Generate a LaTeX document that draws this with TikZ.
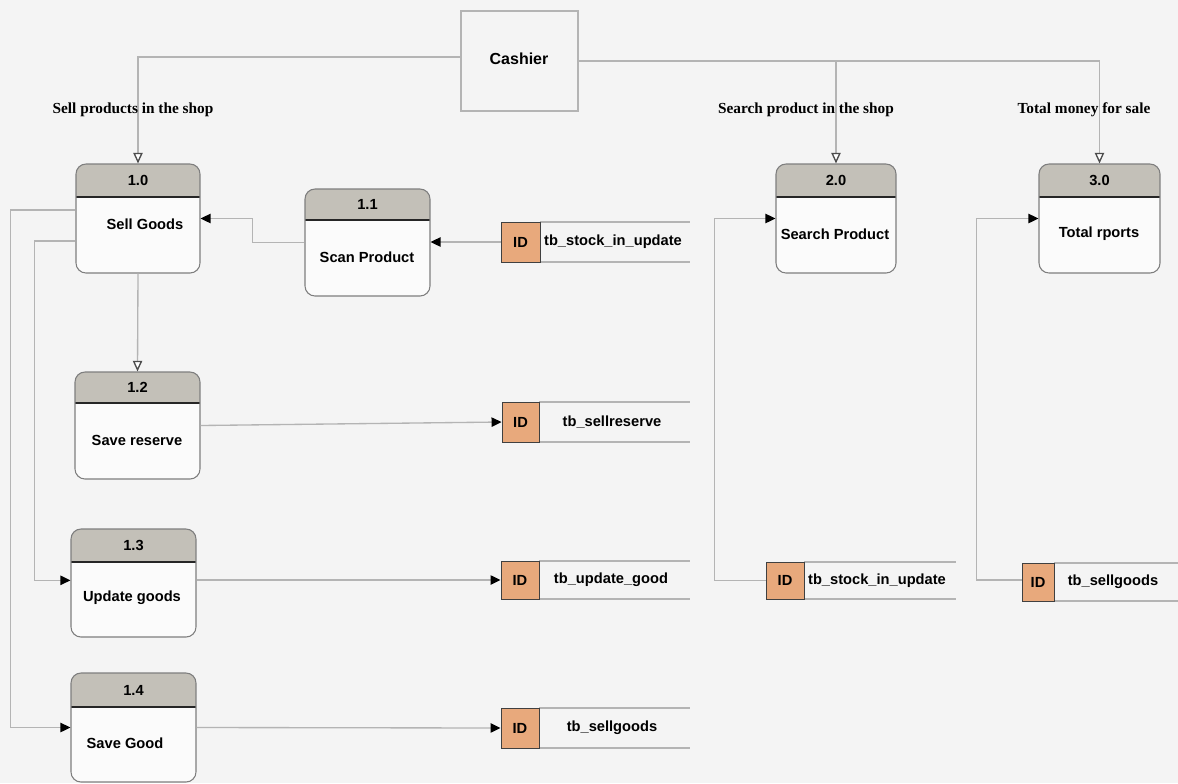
\documentclass[tikz,border=0pt]{standalone}
\usepackage{fontspec}
\setmainfont{Liberation Sans}
\newfontfamily\lblfont{Liberation Serif}
\usetikzlibrary{arrows.meta,calc}
\definecolor{bgc}{HTML}{F4F4F4}
\definecolor{linegray}{HTML}{B4B4B4}
\definecolor{boxgray}{HTML}{7E7E7E}
\definecolor{hdr}{HTML}{C3C0B8}
\definecolor{idfill}{HTML}{E8A97C}
\tikzset{
  flow/.style={draw=linegray, line width=1pt},
  tipf/.tip={Triangle[length=7.5pt,width=7pt,fill=black,color=black]},
  tipo/.tip={Triangle[length=8pt,width=7pt,color=black!70,fill=white]},
  procbody/.style={draw=boxgray, line width=0.8pt, rounded corners=7.5pt, inner sep=0pt},
  ptxt/.style={font=\bfseries\fontsize{11}{13}\selectfont, inner sep=1pt},
  lbl/.style={font=\lblfont\bfseries\fontsize{11.5}{13}\selectfont, inner sep=1pt},
  idbox/.style={draw=black!75, fill=idfill, line width=0.7pt, inner sep=0pt, font=\bfseries\fontsize{11}{13}\selectfont},
  storeline/.style={draw=linegray, line width=1.2pt},
  extbox/.style={draw=linegray, line width=1pt, fill=bgc, inner sep=0pt}
}
% #1 name, #2 x1, #3 y1, #4 x2, #5 y2, #6 header bottom y, #7 number, #8 label, #9 label position
\newcommand{\procbox}[9]{%
  \begin{scope}
    \clip[rounded corners=7.5pt] (#2,#3) rectangle (#4,#5);
    \fill[white!60!bgc] (#2,#3) rectangle (#4,#5);
    \fill[hdr] (#2,#3) rectangle (#4,#6);
  \end{scope}
  \draw[black!85, line width=0.9pt] (#2,#6) -- (#4,#6);
  \node[procbody, minimum width={(#4-#2)*0.75pt}, minimum height={(#5-#3)*0.75pt}] (#1) at ({(#2+#4)/2},{(#3+#5)/2}) {};
  \node[ptxt] (#1n) at ({(#2+#4)/2},{(#3+#6)/2}) {#7};
  \node[ptxt] (#1l) at #9 {#8};
}
% #1 name, #2 x1, #3 y1, #4 x2 (end of ID), #5 y2, #6 line end x, #7 text, #8 text x
\newcommand{\storebox}[8]{%
  \draw[storeline] (#4,#3) -- (#6,#3);
  \draw[storeline] (#4,#5) -- (#6,#5);
  \node[idbox, minimum width={(#4-#2)*0.75pt}, minimum height={(#5-#3)*0.75pt}] (#1) at ({(#2+#4)/2},{(#3+#5)/2}) {ID};
  \node[ptxt] (#1t) at (#8,{(#3+#5)/2}) {#7};
}
\begin{document}
\begin{tikzpicture}[x=0.75pt,y=-0.75pt]
\fill[bgc] (0,0) rectangle (1178,783);
\useasboundingbox (0,0) rectangle (1178,783);

% External entity
\node[extbox, minimum width=87.75pt, minimum height=75pt] (cash) at (519.5,61) {};
\node[font=\bfseries\fontsize{12}{14}\selectfont] (cashl) at (519,59) {Cashier};

% Processes
\procbox{p10}{76}{164}{200}{273}{197}{1.0}{Sell Goods}{(145,224)}
\procbox{p11}{305}{189}{430}{296}{220}{1.1}{Scan Product}{(367,257)}
\procbox{p12}{75}{372}{200}{479}{403}{1.2}{Save reserve}{(137,440)}
\procbox{p13}{71}{529}{196}{637}{562}{1.3}{Update goods}{(132,598)}
\procbox{p14}{71}{673}{196}{782}{707}{1.4}{Save Good}{(125,743)}
\procbox{p20}{776}{164}{896}{273}{197}{2.0}{Search Product}{(835,234)}
\procbox{p30}{1039}{164}{1160}{273}{197}{3.0}{Total rports}{(1099,234)}

% Data stores
\storebox{s1}{501}{222}{540}{262}{690}{tb\_stock\_in\_update}{613}
\storebox{s2}{502}{402}{539}{442}{690}{tb\_sellreserve}{612}
\storebox{s3}{501}{561}{539}{599}{690}{tb\_update\_good}{611}
\storebox{s4}{501}{708}{539}{748}{690}{tb\_sellgoods}{612}
\storebox{s5}{766}{562}{804}{599}{956}{tb\_stock\_in\_update}{877}
\storebox{s6}{1022}{563}{1054}{601}{1178}{tb\_sellgoods}{1113}

% Flows from Cashier
\draw[flow,-tipo] ([yshift=3pt]cash.west) -| (p10.north);
\draw[flow,-tipo] (cash.east) -| (p30.north);
\coordinate (br) at (cash.east -| p20.north);
\draw[flow,-tipo] (br) -- (p20.north);

% Flow labels
\node[lbl] (l1) at (133,110) {Sell products in the shop};
\node[lbl] (l2) at (806,110) {Search product in the shop};
\node[lbl] (l3) at (1084,110) {Total money for sale};

% Internal flows
\draw[flow,-tipf] (s1.west) -- (s1.west -| p11.east);
\draw[flow,-tipf] (p11.west) -- ++(-52,0) |- (p10.east);
\draw[flow,-tipo] (p10.south) -- (p12.north);
\draw[flow,-tipf] ([yshift=6.4pt]p10.west) -- ++(-65,0) |- (p14.west);
\draw[flow,-tipf] ([yshift=-16.9pt]p10.west) -- ++(-41,0) |- ([yshift=2pt]p13.west);
\draw[flow,-tipf] (p12.east) -- (s2.west);
\draw[flow,-tipf] (s3.west -| p13.east) -- (s3.west);
\draw[flow,-tipf] (p14.east) -- (s4.west);
\draw[flow,-tipf] (s5.west) -- ++(-51,0) |- (p20.west);
\draw[flow,-tipf] ([yshift=1.5pt]s6.west) -- ++(-45,0) |- (p30.west);
\end{tikzpicture}
\end{document}
